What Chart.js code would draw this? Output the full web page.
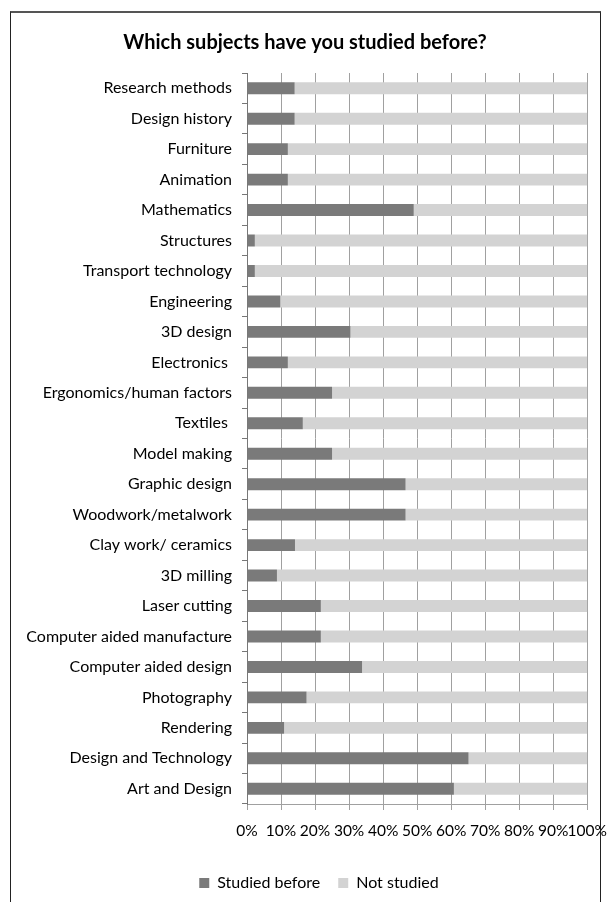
<!DOCTYPE html>
<html>
<head>
<meta charset="utf-8">
<script src="https://cdn.jsdelivr.net/npm/chart.js@4"></script>
<style>
    html, body { margin: 0; padding: 0; background: #fff; }
    #wrap { position: relative; width: 610px; height: 902px; }
    #frame {
        position: absolute; left: 10px; top: 11px; width: 589px; height: 900px;
        border: 1px solid #222; border-top: 2px solid #555; pointer-events: none;
    }
</style>
</head>
<body>
<div id="wrap">
    <canvas id="chart" width="610" height="902"></canvas>
    <div id="frame"></div>
</div>
<script>
// Sujets (de haut en bas)
const subjects = [
    'Research methods', 'Design history', 'Furniture', 'Animation', 'Mathematics',
    'Structures', 'Transport technology', 'Engineering', '3D design', 'Electronics ',
    'Ergonomics/human factors', 'Textiles ', 'Model making', 'Graphic design',
    'Woodwork/metalwork', 'Clay work/ ceramics', '3D milling', 'Laser cutting',
    'Computer aided manufacture', 'Computer aided design', 'Photography', 'Rendering',
    'Design and Technology', 'Art and Design'
];

// Pourcentages
const studiedBefore = [14, 14, 12, 12, 49, 2.3, 2.3, 9.8, 30.4, 12, 25, 16.4, 25, 46.6, 46.6, 14.1, 8.8, 21.7, 21.7, 33.8, 17.5, 10.9, 65.1, 60.8];
const notStudied = [86, 86, 88, 88, 51, 97.7, 97.7, 90.2, 69.6, 88, 75, 83.6, 75, 53.4, 53.4, 85.9, 91.2, 78.3, 78.3, 66.2, 82.5, 89.1, 34.9, 39.2];

const xTicks = [0, 10, 20, 30, 40, 50, 60, 70, 80, 90, 100];

const FONT = 'Lato, "Open Sans", sans-serif';

// Décaler un peu la légende vers la droite, comme sur l'original
const legendShift = {
    id: 'legendShift',
    afterLayout(chart) {
        if (chart.legend) {
            chart.legend.left += 14;
            chart.legend.right += 14;
        }
    }
};

const ctx = document.getElementById('chart').getContext('2d');
new Chart(ctx, {
    type: 'bar',
    data: {
        labels: subjects,
        datasets: [{
            label: 'Studied before',
            data: studiedBefore,
            backgroundColor: '#7a7a7a',
            borderWidth: 0,
            categoryPercentage: 1,
            barPercentage: 0.39
        }, {
            label: 'Not studied',
            data: notStudied,
            backgroundColor: '#d3d3d3',
            borderWidth: 0,
            categoryPercentage: 1,
            barPercentage: 0.39
        }]
    },
    plugins: [legendShift],
    options: {
        responsive: false,
        animation: false,
        indexAxis: 'y',
        layout: {
            padding: { top: 30, bottom: 1, left: 0, right: 0 }
        },
        plugins: {
            title: {
                display: true,
                text: 'Which subjects have you studied before?',
                color: '#000',
                font: { family: FONT, size: 20, weight: 'bold' },
                padding: { top: 1, bottom: 18 }
            },
            legend: {
                position: 'bottom',
                labels: {
                    color: '#000',
                    font: { family: FONT, size: 16 },
                    boxWidth: 10,
                    boxHeight: 10,
                    padding: 18
                }
            },
            tooltip: { enabled: false }
        },
        scales: {
            x: {
                stacked: true,
                min: 0,
                max: 100,
                afterBuildTicks: (scale) => {
                    scale.ticks = xTicks.map(v => ({ value: v }));
                },
                afterFit: (scale) => { scale.height = 53; },
                ticks: {
                    color: '#000',
                    // grande hauteur de ligne pour descendre les libellés sans élargir la marge droite
                    font: { family: FONT, size: 15.5, lineHeight: 2.3 },
                    padding: 3,
                    maxRotation: 0,
                    autoSkip: false,
                    callback: (v) => v + '%'
                },
                grid: {
                    color: '#a0a0a0',
                    lineWidth: 1,
                    tickLength: 6
                },
                border: { color: '#a0a0a0' }
            },
            y: {
                stacked: true,
                afterFit: (scale) => { scale.width = 247; },
                ticks: {
                    color: '#000',
                    font: { family: FONT, size: 16 },
                    padding: 10,
                    autoSkip: false
                },
                grid: {
                    offset: true,
                    drawOnChartArea: false,
                    color: '#777',
                    tickLength: 5
                },
                border: { color: '#777' }
            }
        }
    }
});
</script>
</body>
</html>
